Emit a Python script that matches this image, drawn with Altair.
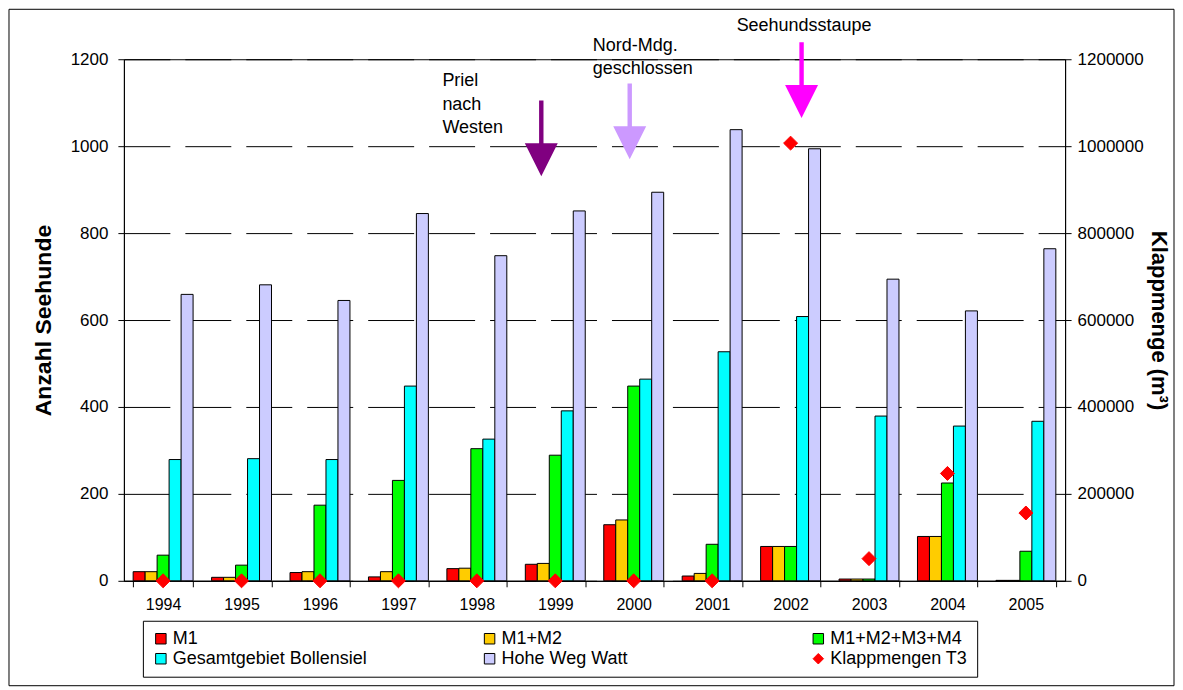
import altair as alt
import pandas as pd

# ---------------- data ----------------
years = ["1994", "1995", "1996", "1997", "1998", "1999",
         "2000", "2001", "2002", "2003", "2004", "2005"]
series_names = ["M1", "M1+M2", "M1+M2+M3+M4", "Gesamtgebiet Bollensiel",
                "Hohe Weg Watt", "Klappmengen T3"]
series_colors = ["#FF0000", "#FFCC00", "#00FF00", "#00FFFF", "#CCCCFF", "#FF0000"]

m1 = [21, 8, 19, 9, 28, 38, 129, 11, 79, 4, 102, 1]
m1_m2 = [21, 8, 21, 21, 29, 40, 140, 17, 79, 4, 102, 1]
m1_m4 = [59, 36, 174, 231, 304, 289, 448, 84, 79, 4, 225, 68]
bollensiel = [279, 281, 279, 448, 326, 391, 464, 527, 608, 379, 356, 367]
hohe_weg = [659, 681, 645, 845, 748, 851, 894, 1038, 994, 694, 621, 764]
klappmengen = [0, 0, 0, 0, 0, 0, 0, 0, 1007000, 51000, 247000, 156000]

# annotations
ann_labels = [["Priel", "nach", "Westen"], ["Nord-Mdg.", "geschlossen"], ["Seehundsstaupe"]]
ann_years = ["1999", "2000", "2002"]
ann_label_y = [[1149, 1094, 1041], [1230, 1177], [1276]]
ann_arrow_y = [1018, 1057, 1152]
ann_colors = ["#800080", "#CC99FF", "#FF00FF"]

# ---------------- layout ----------------
FONT = "Liberation Sans"
W, H = 942, 522
ann_text_dx = [-113, -41, -54]
ann_arrow_dx = [-14, -4, 11]
ARROW = "M-0.058,-1L0.058,-1L0.058,0.13L0.434,0.13L0,1L-0.434,0.13L-0.058,0.13Z"

rows = []
for name, vals in zip(series_names[:5], [m1, m1_m2, m1_m4, bollensiel, hohe_weg]):
    for yr, v in zip(years, vals):
        rows.append({"Jahr": yr, "Serie": name, "Anzahl": v})
bar_df = pd.DataFrame(rows)
klapp_df = pd.DataFrame({"Jahr": years, "Serie": ["Klappmengen T3"] * len(years),
                         "Klappmenge": klappmengen})

y_scale = alt.Scale(domain=[0, 1200], nice=False)
x_sort = years

leg = alt.Legend(title=None, orient="none", legendX=19, legendY=562, columns=3,
                 direction="horizontal", gridAlign="all", columnPadding=113, rowPadding=2,
                 padding=9, labelLimit=400,
                 strokeColor="black", fillColor="white", labelFont=FONT, labelFontSize=18,
                 labelColor="black", symbolSize=110, symbolStrokeWidth=1, labelOffset=3)

fill_scale = alt.Scale(domain=series_names, range=series_colors)

bars = alt.Chart(bar_df).mark_bar(stroke="black", strokeWidth=1).encode(
    x=alt.X("Jahr:N", sort=x_sort,
            scale=alt.Scale(domain=years, paddingInner=0.236, paddingOuter=0.118),
            axis=alt.Axis(title=None, tickBand="extent", labelFont=FONT, labelFontSize=16,
                          labelColor="black", labelPadding=10, tickSize=6, tickColor="black",
                          domainColor="black", labelAngle=0, grid=False)),
    xOffset=alt.XOffset("Serie:N", sort=series_names[:5],
                        scale=alt.Scale(paddingInner=0, paddingOuter=0)),
    y=alt.Y("Anzahl:Q", scale=y_scale,
            axis=alt.Axis(title="Anzahl Seehunde", values=[0, 200, 400, 600, 800, 1000, 1200],
                          format="d",
                          titleFont=FONT, titleFontSize=23, titleFontWeight="bold",
                          titleColor="black", titlePadding=15,
                          labelFont=FONT, labelFontSize=17, labelColor="black",
                          labelPadding=10, tickSize=6, tickColor="black", domainColor="black",
                          grid=True, gridColor="black", gridDash=[46, 15], gridWidth=1)),
    fill=alt.Fill("Serie:N", scale=fill_scale, legend=leg),
)

ann_layers = []
for i in range(len(ann_years)):
    tdf = pd.DataFrame({"Jahr": [ann_years[i]] * len(ann_labels[i]),
                        "Anzahl": ann_label_y[i], "Text": ann_labels[i]})
    ann_layers.append(
        alt.Chart(tdf).mark_text(align="left", baseline="middle", font=FONT, fontSize=18,
                                 color="black", xOffset=ann_text_dx[i]).encode(
            x=alt.X("Jahr:N", sort=x_sort),
            y=alt.Y("Anzahl:Q", scale=y_scale),
            text="Text:N",
        )
    )
    adf = pd.DataFrame({"Jahr": [ann_years[i]], "Anzahl": [ann_arrow_y[i]]})
    ann_layers.append(
        alt.Chart(adf).mark_point(shape=ARROW, size=5776, filled=True, opacity=1,
                                  fill=ann_colors[i], strokeWidth=0,
                                  xOffset=ann_arrow_dx[i]).encode(
            x=alt.X("Jahr:N", sort=x_sort),
            y=alt.Y("Anzahl:Q", scale=y_scale),
        )
    )

frame = alt.Chart(pd.DataFrame({"f": [0]})).mark_rect(
    fill=None, stroke="black", strokeWidth=1).encode(
    x=alt.value(-115), x2=alt.value(1051), y=alt.value(-50), y2=alt.value(627))

left = alt.layer(bars, *ann_layers, frame)

diamonds = alt.Chart(klapp_df).mark_point(filled=True, size=196, opacity=1, strokeWidth=1).encode(
    x=alt.X("Jahr:N", sort=x_sort),
    y=alt.Y("Klappmenge:Q", scale=alt.Scale(domain=[0, 1200000], nice=False),
            axis=alt.Axis(orient="right", title="Klappmenge (m³)", format="d",
                          values=[0, 200000, 400000, 600000, 800000, 1000000, 1200000],
                          titleFont=FONT, titleFontSize=22, titleFontWeight="bold",
                          titleColor="black", titlePadding=3,
                          labelFont=FONT, labelFontSize=17, labelColor="black",
                          labelPadding=6, tickSize=6, tickColor="black", domainColor="black",
                          grid=False)),
    fill=alt.Fill("Serie:N", scale=fill_scale, legend=leg),
    stroke=alt.Stroke("Serie:N", scale=alt.Scale(domain=series_names,
                                                 range=["black"] * 5 + ["#FF0000"]), legend=leg),
    shape=alt.Shape("Serie:N", scale=alt.Scale(domain=series_names,
                                               range=["square"] * 5 + ["diamond"]), legend=leg),
)

chart = alt.layer(left, diamonds).resolve_scale(y="independent").properties(
    width=W, height=H, padding=0, background="white"
).configure_view(stroke="black", strokeWidth=1)

chart.save("out.html", embed_options={"renderer": "svg", "actions": False})
